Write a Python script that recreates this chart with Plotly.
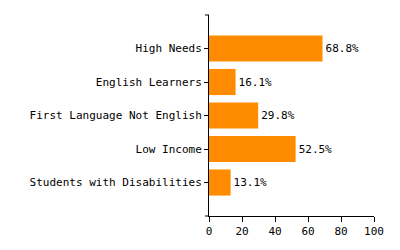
import plotly.graph_objects as go

categories = ["High Needs", "English Learners", "First Language Not English", "Low Income", "Students with Disabilities"]
values = [68.8, 16.1, 29.8, 52.5, 13.1]
x_ticks = [0, 20, 40, 60, 80, 100]

FONT = "DejaVu Sans Mono"
FS = 11

fig = go.Figure(go.Bar(
    x=values, y=categories, orientation="h",
    marker=dict(color="#FF8C00", line=dict(width=0)),
    text=[f"{v:.1f}%" for v in values], textposition="outside",
    textfont=dict(family=FONT, size=FS, color="#000"),
    cliponaxis=False, width=0.78,
))

fig.update_layout(
    width=400, height=250,
    margin=dict(l=209, r=26, t=15, b=29),
    paper_bgcolor="white", plot_bgcolor="white",
    showlegend=False,
    font=dict(family=FONT, size=FS, color="#000"),
    xaxis=dict(range=[0, 100], tickvals=x_ticks, ticks="outside", ticklen=5,
               tickcolor="#000", showline=True, linecolor="#000", linewidth=1,
               showgrid=False, zeroline=False, tickfont=dict(family=FONT, size=FS)),
    yaxis=dict(type="category", categoryorder="array", categoryarray=categories,
               range=[5, -1], ticks="outside", ticklen=4, tickcolor="#000",
               showline=True, linecolor="#000", linewidth=1, showgrid=False,
               zeroline=False, tickfont=dict(family=FONT, size=FS)),
    shapes=[
        dict(type="line", xref="paper", yref="paper", xsizemode="pixel", xanchor=0,
             x0=-4, x1=0, y0=1, y1=1, line=dict(color="#000", width=1)),
        dict(type="line", xref="paper", yref="paper", xsizemode="pixel", xanchor=0,
             x0=-4, x1=0, y0=0, y1=0, line=dict(color="#000", width=1)),
    ],
)

fig.write_html("out.html")
